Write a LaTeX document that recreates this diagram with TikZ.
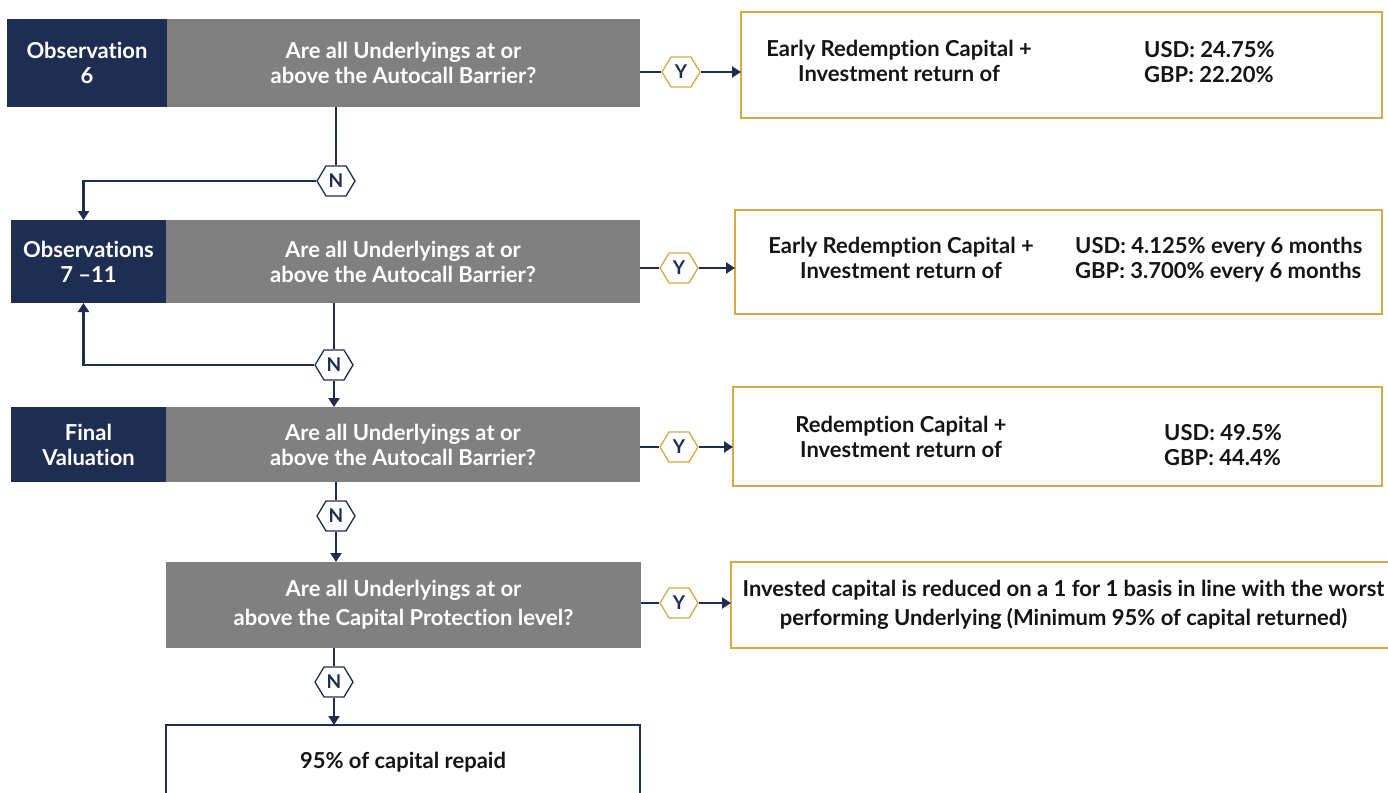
\documentclass[tikz,border=0pt]{standalone}
\usepackage{fontspec}
\setmainfont{Lato}[Ligatures=NoCommon]
\usetikzlibrary{arrows.meta,shapes.symbols,calc}
\definecolor{navy}{HTML}{1E2D52}
\definecolor{qgrey}{HTML}{808080}
\definecolor{gold}{HTML}{D6A945}
\definecolor{ink}{HTML}{151515}
\begin{document}
\begin{tikzpicture}[x=1pt,y=-1pt,
  base/.style={anchor=north west,inner sep=0pt,outer sep=0pt,align=center},
  obs/.style={base,fill=navy,text=white,font=\bfseries\fontsize{22}{25}\selectfont},
  ques/.style={base,fill=qgrey,text=white,font=\bfseries\fontsize{22}{25}\selectfont},
  res/.style={base,draw=gold,line width=1.5pt,fill=white},
  fin/.style={base,draw=navy,line width=1.5pt,fill=white,text=ink,font=\bfseries\fontsize{22}{25}\selectfont},
  txt/.style={inner sep=0pt,text=ink,font=\bfseries\fontsize{22}{25}\selectfont},
  hexy/.style={signal,signal to=west and east,signal pointer angle=118,draw=gold,line width=1.3pt,fill=white,
    minimum width=38pt,minimum height=30pt,inner sep=0pt,text=navy,font=\bfseries\fontsize{19}{19}\selectfont},
  hexn/.style={hexy,draw=navy},
  link/.style={draw=navy,line width=2.8pt},
  arr/.style={link,-{Triangle[length=9pt,width=11pt]}}
]
\useasboundingbox (0,0) rectangle (1388,792);
% row 1
\node[obs,minimum width=160pt,minimum height=88pt] (o1) at (7,19) {Observation\\6};
\node[ques,minimum width=473pt,minimum height=88pt] (q1) at (167,19) {Are all Underlyings at or\\above the Autocall Barrier?};
\node[res,minimum width=641pt,minimum height=106pt] (r1) at (741,12) {};
\node[txt,align=center] (r1a) at (899,61) {Early Redemption Capital +\\Investment return of};
\node[txt,align=left,anchor=west] (r1b) at (1144,62) {USD: 24.75\%\\GBP: 22.20\%};
\node[hexy] (y1) at (681,72) {Y};
\node[hexn] (n1) at (336,181) {N};
% row 2
\node[obs,minimum width=155pt,minimum height=83pt] (o2) at (11,220) {Observations\\7 –11};
\node[ques,minimum width=474pt,minimum height=83pt] (q2) at (166,220) {Are all Underlyings at or\\above the Autocall Barrier?};
\node[res,minimum width=647pt,minimum height=104pt] (r2) at (735,210) {};
\node[txt,align=center] (r2a) at (901,258) {Early Redemption Capital +\\Investment return of};
\node[txt,align=left,anchor=west] (r2b) at (1075,260) {USD: 4.125\% every 6 months\\GBP: 3.700\% every 6 months};
\node[hexy] (y2) at (679,268) {Y};
\node[hexn] (n2) at (334,365) {N};
% row 3
\node[obs,minimum width=155pt,minimum height=75pt] (o3) at (11,407) {Final\\Valuation};
\node[ques,minimum width=474pt,minimum height=75pt] (q3) at (166,407) {Are all Underlyings at or\\above the Autocall Barrier?};
\node[res,minimum width=649pt,minimum height=99pt] (r3) at (733,387) {};
\node[txt,align=center] (r3a) at (901,437) {Redemption Capital +\\Investment return of};
\node[txt,align=left,anchor=west] (r3b) at (1164,445) {USD: 49.5\%\\GBP: 44.4\%};
\node[hexy] (y3) at (679,447) {Y};
\node[hexn] (n3) at (336,516) {N};
% row 4
\node[ques,minimum width=475pt,minimum height=86pt,font=\bfseries\fontsize{22}{29}\selectfont] (q4) at (166,562) {Are all Underlyings at or\\above the Capital Protection level?};
\node[res,minimum width=665pt,minimum height=86pt,text=ink,font=\bfseries\fontsize{22}{29}\selectfont] (r4) at (731,562) {Invested capital is reduced on a 1 for 1 basis in line with the worst\\performing Underlying (Minimum 95\% of capital returned)};
\node[hexy] (y4) at (679,603) {Y};
\node[hexn] (n4) at (334,682) {N};
% final
\node[fin,minimum width=474pt,minimum height=75pt] (f) at (166,725) {95\% of capital repaid};
% connectors
\draw[link] (q1.east |- y1) -- (y1.west);
\draw[arr] (y1.east) -- (y1.east -| r1.west);
\draw[link] (n1 |- q1.south) -- (n1.north);
\draw[arr] (n1.west) -| ([xshift=-5pt]o2.north);
\draw[link] (q2.east |- y2) -- (y2.west);
\draw[arr] (y2.east) -- (y2.east -| r2.west);
\draw[link] (n2 |- q2.south) -- (n2.north);
\draw[arr] (n2.west) -| ([xshift=-5pt]o2.south);
\draw[arr] (n2.south) -- (n2 |- q3.north);
\draw[link] (q3.east |- y3) -- (y3.west);
\draw[arr] (y3.east) -- (y3.east -| r3.west);
\draw[link] (n3 |- q3.south) -- (n3.north);
\draw[arr] (n3.south) -- (n3 |- q4.north);
\draw[link] (q4.east |- y4) -- (y4.west);
\draw[arr] (y4.east) -- (y4.east -| r4.west);
\draw[link] (n4 |- q4.south) -- (n4.north);
\draw[arr] (n4.south) -- (n4 |- f.north);
\end{tikzpicture}
\end{document}
